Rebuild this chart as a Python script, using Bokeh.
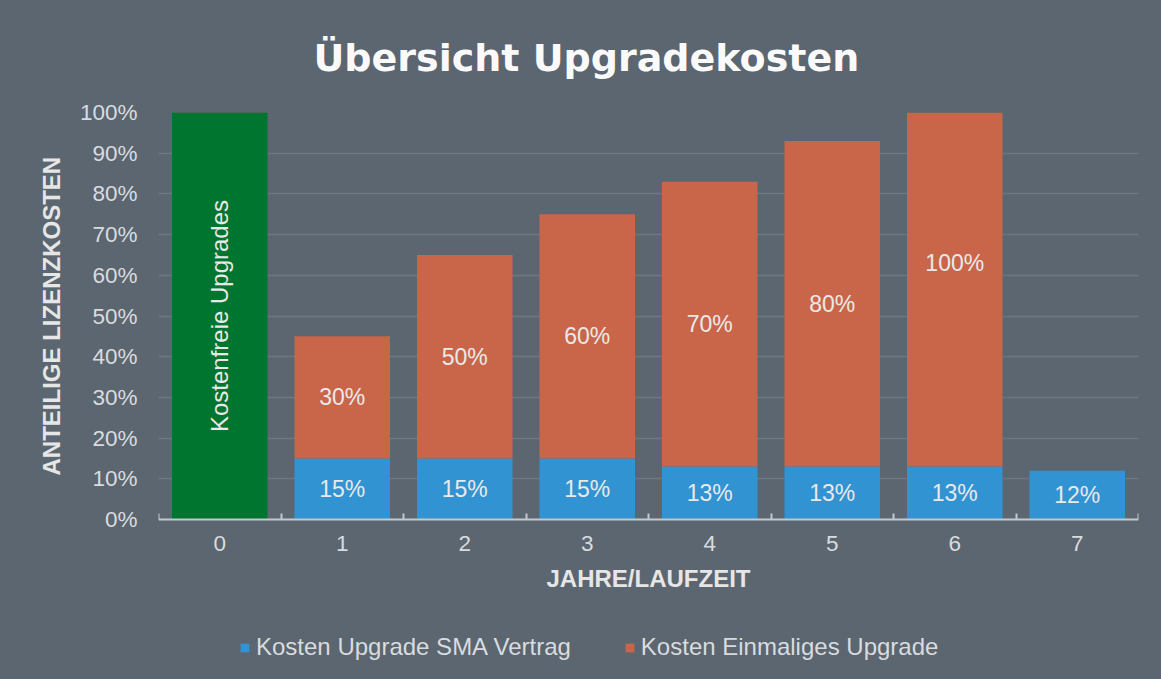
from bokeh.plotting import figure
from bokeh.models import (ColumnDataSource, FixedTicker, NumeralTickFormatter,
                          Legend, LegendItem, Range1d, Title)
from bokeh.core.properties import value
from bokeh.embed import file_html
from bokeh.resources import INLINE

# ---------------- data ----------------
years = [0, 1, 2, 3, 4, 5, 6, 7]
free_share = [100, 0, 0, 0, 0, 0, 0, 0]          # % kostenfreie Upgrades
sma_cost = [0, 15, 15, 15, 13, 13, 13, 12]        # % Kosten Upgrade SMA Vertrag
one_time_cost = [0, 30, 50, 60, 70, 80, 100, 0]   # % Kosten Einmaliges Upgrade
y_ticks = [0, 10, 20, 30, 40, 50, 60, 70, 80, 90, 100]

title_text = "Übersicht Upgradekosten"
free_text = "Kostenfreie Upgrades"
sma_name = "Kosten Upgrade SMA Vertrag"
one_name = "Kosten Einmaliges Upgrade"
x_title = "JAHRE/LAUFZEIT"
y_title = "ANTEILIGE LIZENZKOSTEN"

# ---------------- style / layout ----------------
BG = "#5b6670"
GREEN = "#00752f"
BLUE = "#3193d1"
ORANGE = "#c9664a"
GRID = "#6d7780"
AXIS = "#c4c8cc"
TICK_TXT = "#d9dcdf"
LBL_TXT = "#e9e9e9"
FONT = "Liberation Sans"
W = 0.78
PLOT_PX = 407          # pixel height of 0..100 %
FRAME_H = 567          # frame reaches down to the legend area

p = figure(frame_width=980, frame_height=FRAME_H, output_backend="svg",
           toolbar_location=None,
           x_range=Range1d(-0.5, 7.5), y_range=Range1d(1 - FRAME_H / PLOT_PX, 1),
           min_border_left=158, min_border_right=23, min_border_top=112,
           min_border_bottom=0)
p.background_fill_color = BG
p.border_fill_color = BG
p.outline_line_color = None
p.styles = {"background-color": BG}

# ---------------- bars ----------------
free_src = ColumnDataSource(dict(
    x=[x for x, v in zip(years, free_share) if v > 0],
    top=[v / 100 for v in free_share if v > 0]))
p.vbar(x="x", top="top", bottom=0, width=W, source=free_src,
       fill_color=GREEN, line_color=None)

sma_src = ColumnDataSource(dict(
    x=[x for x, v in zip(years, sma_cost) if v > 0],
    top=[v / 100 for v in sma_cost if v > 0],
    ly=[v / 200 for v in sma_cost if v > 0],
    txt=[f"{v}%" for v in sma_cost if v > 0]))
r_sma = p.vbar(x="x", top="top", bottom=0, width=W, source=sma_src,
               fill_color=BLUE, line_color=None)

one_src = ColumnDataSource(dict(
    x=[x for x, v in zip(years, one_time_cost) if v > 0],
    bottom=[s / 100 for s, v in zip(sma_cost, one_time_cost) if v > 0],
    top=[(s + v) / 100 for s, v in zip(sma_cost, one_time_cost) if v > 0],
    ly=[(s + v / 2) / 100 for s, v in zip(sma_cost, one_time_cost) if v > 0],
    txt=[f"{v}%" for v in one_time_cost if v > 0]))
r_one = p.vbar(x="x", top="top", bottom="bottom", width=W, source=one_src,
               fill_color=ORANGE, line_color=None)

# ---------------- data labels ----------------
for src in (sma_src, one_src):
    p.text(x="x", y="ly", text="txt", source=src, text_align="center",
           text_baseline="middle", text_color=LBL_TXT,
           text_font=value(FONT), text_font_size="23px")

free_lbl = ColumnDataSource(dict(
    x=[x for x, v in zip(years, free_share) if v > 0],
    y=[v / 200 for v in free_share if v > 0],
    txt=[free_text for v in free_share if v > 0]))
p.text(x="x", y="y", text="txt", source=free_lbl, angle=1.5707963,
       text_align="center", text_baseline="middle", text_color=LBL_TXT,
       text_font=value(FONT), text_font_size="24px")

# ---------------- axes ----------------
p.xgrid.grid_line_color = None
p.ygrid.grid_line_color = GRID
p.ygrid.grid_line_width = 1.5
p.ygrid.ticker = FixedTicker(ticks=[t / 100 for t in y_ticks])

p.yaxis.ticker = FixedTicker(ticks=[t / 100 for t in y_ticks])
p.yaxis.formatter = NumeralTickFormatter(format="0%")
p.yaxis.axis_line_color = None
p.yaxis.major_tick_line_color = None
p.yaxis.minor_tick_line_color = None
p.yaxis.major_label_standoff = 15
p.yaxis.major_label_text_color = TICK_TXT
p.yaxis.major_label_text_font = FONT
p.yaxis.major_label_text_font_size = "22.5px"

p.xaxis.fixed_location = 0
p.xaxis.ticker = FixedTicker(ticks=years, minor_ticks=[y - 0.5 for y in years] + [years[-1] + 0.5])
p.xaxis.axis_line_color = AXIS
p.xaxis.axis_line_width = 2
p.xaxis.major_tick_line_color = None
p.xaxis.minor_tick_line_color = AXIS
p.xaxis.minor_tick_line_width = 2
p.xaxis.minor_tick_in = 6
p.xaxis.minor_tick_out = 0
p.xaxis.major_tick_in = 0
p.xaxis.major_tick_out = 0
p.xaxis.major_label_standoff = 16
p.xaxis.major_label_text_color = TICK_TXT
p.xaxis.major_label_text_font = FONT
p.xaxis.major_label_text_font_size = "22.5px"
p.xaxis.axis_label = x_title
p.xaxis.axis_label_text_font = FONT
p.xaxis.axis_label_text_font_style = "bold"
p.xaxis.axis_label_text_font_size = "24px"
p.xaxis.axis_label_text_color = "#e6e6e6"
p.xaxis.axis_label_standoff = 11

# y-axis title (left side panel, outside the tick labels)
p.add_layout(Title(text=y_title, align="left", offset=FRAME_H - PLOT_PX + 44,
                   standoff=24, text_font=FONT, text_font_style="bold",
                   text_font_size="24px", text_color="#e6e6e6"), "left")

# ---------------- title ----------------
p.title.text = title_text
p.title.align = "left"
p.title.offset = 155
p.title.standoff = 66
p.title.text_color = "#fafafa"
p.title.text_font = "DejaVu Sans"
p.title.text_font_style = "bold"
p.title.text_font_size = "38px"

# ---------------- legend ----------------
legend = Legend(items=[LegendItem(label=sma_name, renderers=[r_sma]),
                       LegendItem(label=one_name, renderers=[r_one])],
                location=(81, 18), orientation="horizontal",
                glyph_width=11, glyph_height=11, label_standoff=6, spacing=53,
                padding=0, margin=0, border_line_color=None,
                background_fill_alpha=0,
                label_text_font=FONT, label_text_font_size="24px",
                label_text_color=TICK_TXT)
p.add_layout(legend)

open("out.html", "w").write(file_html(p, INLINE))
